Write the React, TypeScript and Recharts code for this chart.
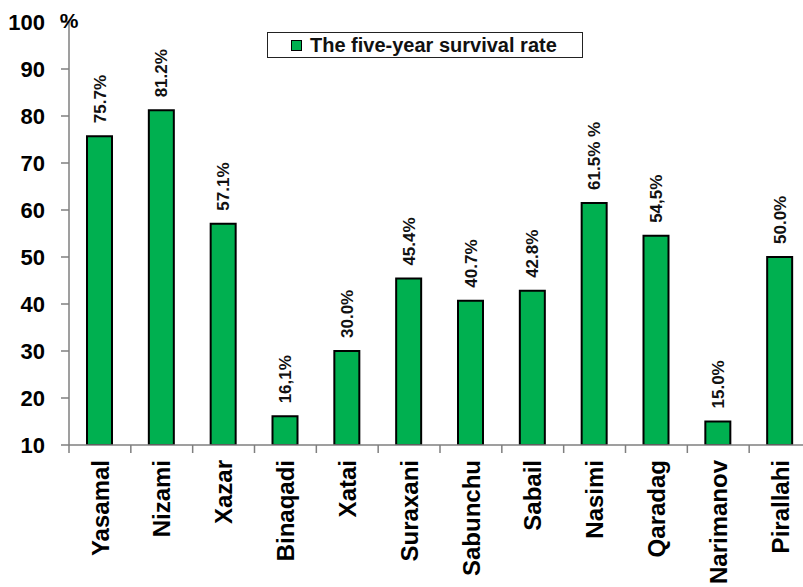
import React from "react";
import { BarChart, Bar, XAxis, YAxis, LabelList } from "recharts";

const districts = [
  "Yasamal",
  "Nizami",
  "Xazar",
  "Binaqadi",
  "Xatai",
  "Suraxani",
  "Sabunchu",
  "Sabail",
  "Nasimi",
  "Qaradag",
  "Narimanov",
  "Pirallahi",
];

const survivalRate = [75.7, 81.2, 57.1, 16.1, 30.0, 45.4, 40.7, 42.8, 61.5, 54.5, 15.0, 50.0];

const rateLabels = [
  "75.7%",
  "81.2%",
  "57.1%",
  "16,1%",
  "30.0%",
  "45.4%",
  "40.7%",
  "42.8%",
  "61.5% %",
  "54,5%",
  "15.0%",
  "50.0%",
];

const yTicks = [10, 20, 30, 40, 50, 60, 70, 80, 90, 100];

const SERIES_NAME = "The five-year survival rate";

const data = districts.map((name, i) => ({
  name,
  rate: survivalRate[i],
  label: rateLabels[i],
}));

const FONT = "'Liberation Sans', Arial, Helvetica, sans-serif";
const GREEN = "#00B050";
const AXIS = "#7f7f7f";

const CHART_W = 811;
const CHART_H = 587;
const Y_W = 69;
const X_H = 142;
const BAND = (CHART_W - Y_W) / districts.length;

function YTick({ x, y, payload }: any) {
  return (
    <g>
      <text
        x={x - 14}
        y={y}
        dy="0.36em"
        textAnchor="end"
        fontFamily={FONT}
        fontWeight="bold"
        fontSize={22}
        fill="#000"
      >
        {payload.value}
      </text>
      {payload.value === 100 && (
        <text
          x={Y_W}
          y={y}
          dy="0.3em"
          textAnchor="middle"
          fontFamily={FONT}
          fontWeight="bold"
          fontSize={21}
          fill="#000"
        >
          %
        </text>
      )}
    </g>
  );
}

function XTick({ x, y, payload }: any) {
  const edge = x - BAND / 2;
  return (
    <g>
      <line x1={edge} x2={edge} y1={y - 8} y2={y} stroke={AXIS} strokeWidth={1.5} />
      <text
        transform={`translate(${x},${y + 7}) rotate(-90)`}
        dy="0.36em"
        textAnchor="end"
        fontFamily={FONT}
        fontWeight="bold"
        fontSize={24}
        fill="#000"
      >
        {payload.value}
      </text>
    </g>
  );
}

function RateLabel({ x, y, width, index }: any) {
  const cx = x + width / 2;
  return (
    <text
      transform={`translate(${cx},${y - 13}) rotate(-90)`}
      dy="0.36em"
      textAnchor="start"
      fontFamily={FONT}
      fontWeight="bold"
      fontSize={17}
      fill="#111"
    >
      {rateLabels[index]}
    </text>
  );
}

// series key box, placed over the plot's upper area
function LegendBox() {
  return (
    <div
      style={{
        position: "absolute",
        left: 267,
        top: 32,
        width: 314,
        height: 24,
        border: "1px solid #222",
        background: "#fff",
        display: "flex",
        alignItems: "center",
        fontFamily: FONT,
        fontWeight: "bold",
        fontSize: 20,
        color: "#111",
      }}
    >
      <span
        style={{
          width: 9,
          height: 9,
          background: GREEN,
          border: "1.5px solid #000",
          marginLeft: 23,
          marginRight: 8,
        }}
      />
      <span>{SERIES_NAME}</span>
    </div>
  );
}

export default function App() {
  return (
    <div
      style={{
        position: "absolute",
        left: 0,
        top: 0,
        width: 803,
        height: 587,
        overflow: "hidden",
        background: "#fff",
      }}
    >
      <BarChart
        width={CHART_W}
        height={CHART_H}
        data={data}
        margin={{ top: 22, right: 0, left: 0, bottom: 0 }}
        barCategoryGap="58%"
      >
        <XAxis
          dataKey="name"
          interval={0}
          height={X_H}
          axisLine={{ stroke: AXIS, strokeWidth: 1.5 }}
          tickLine={false}
          tick={<XTick />}
        />
        <YAxis
          width={Y_W}
          domain={[10, 100]}
          ticks={yTicks}
          allowDataOverflow
          axisLine={{ stroke: AXIS, strokeWidth: 1.5 }}
          tickLine={{ stroke: AXIS, strokeWidth: 1.5 }}
          tickSize={8}
          tick={<YTick />}
        />
        <Bar
          dataKey="rate"
          name={SERIES_NAME}
          fill={GREEN}
          stroke="#000"
          strokeWidth={2}
          barSize={25}
          isAnimationActive={false}
        >
          <LabelList dataKey="label" content={<RateLabel />} />
        </Bar>
      </BarChart>
      <LegendBox />
    </div>
  );
}
